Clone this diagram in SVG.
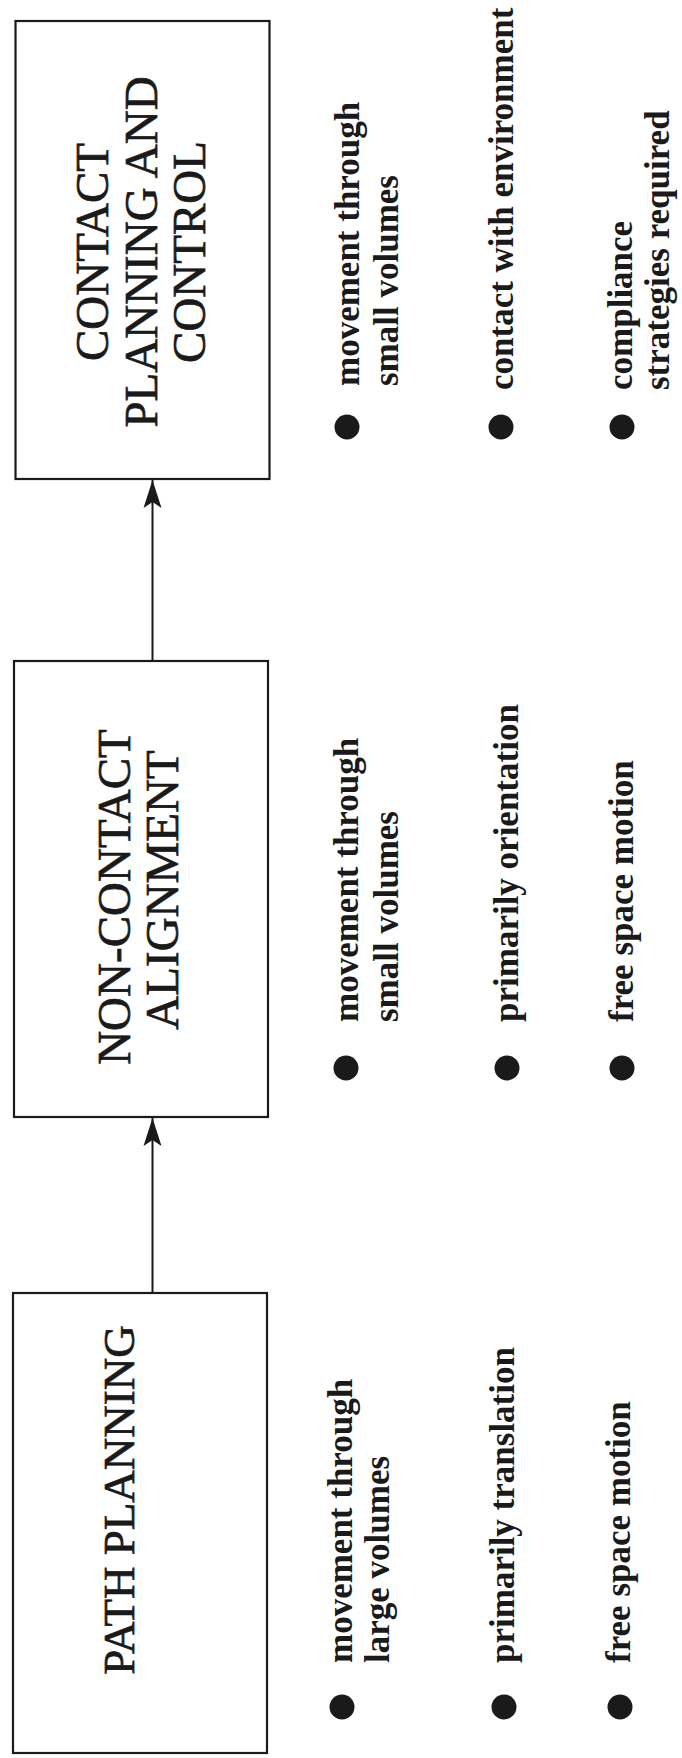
<svg xmlns="http://www.w3.org/2000/svg" width="682" height="1758" viewBox="0 0 682 1758">
<style>
.box{fill:none;stroke:#1a1a1a;stroke-width:2.2}
.title{font-family:"Liberation Serif","Times New Roman",serif;font-size:47px;fill:#1a1a1a;stroke:#1a1a1a;stroke-width:0.7;text-anchor:middle}
.item{font-family:"Liberation Serif","Times New Roman",serif;font-size:35px;font-weight:bold;fill:#1a1a1a}
.dot{fill:#1a1a1a}
.conn{stroke:#1a1a1a;stroke-width:2;fill:none}
</style>
<defs>
<marker id="arr" viewBox="0 -10 30 20" refX="28" refY="0" markerWidth="30" markerHeight="20" markerUnits="userSpaceOnUse" orient="auto">
<path d="M28,0 L0,-9 L6,0 L0,9 Z" fill="#1a1a1a"/>
</marker>
</defs>
<rect width="682" height="1758" fill="#ffffff"/>

<g id="connectors">
<line class="conn" x1="152.5" y1="661" x2="152.5" y2="480" marker-end="url(#arr)"/>
<line class="conn" x1="152.5" y1="1293" x2="152.5" y2="1118" marker-end="url(#arr)"/>
</g>

<g id="node-contact">
<rect class="box" x="15.5" y="21" width="254" height="458"/>
<text class="title" transform="translate(108,252) rotate(-90)">CONTACT</text>
<text class="title" transform="translate(157,252) rotate(-90)">PLANNING AND</text>
<text class="title" transform="translate(205,252) rotate(-90)">CONTROL</text>
</g>

<g id="list-contact">
<circle class="dot" cx="347" cy="427" r="12.5"/>
<text class="item" transform="translate(359,386) rotate(-90)">movement through</text>
<text class="item" transform="translate(398,386) rotate(-90)">small volumes</text>
<circle class="dot" cx="501" cy="427" r="12.5"/>
<text class="item" transform="translate(513,390) rotate(-90)">contact with environment</text>
<circle class="dot" cx="622" cy="427" r="12.5"/>
<text class="item" transform="translate(632,390) rotate(-90)">compliance</text>
<text class="item" transform="translate(669,390) rotate(-90)">strategies required</text>
</g>

<g id="node-noncontact">
<rect class="box" x="14" y="661" width="254" height="456"/>
<text class="title" transform="translate(130,897) rotate(-90)">NON-CONTACT</text>
<text class="title" transform="translate(178,890) rotate(-90)">ALIGNMENT</text>
</g>

<g id="list-noncontact">
<circle class="dot" cx="346" cy="1068" r="12.5"/>
<text class="item" transform="translate(358,1022) rotate(-90)">movement through</text>
<text class="item" transform="translate(398,1022) rotate(-90)">small volumes</text>
<circle class="dot" cx="507" cy="1068" r="12.5"/>
<text class="item" transform="translate(518,1022) rotate(-90)">primarily orientation</text>
<circle class="dot" cx="622" cy="1068" r="12.5"/>
<text class="item" transform="translate(633,1022) rotate(-90)">free space motion</text>
</g>

<g id="node-path">
<rect class="box" x="13" y="1293" width="254" height="460"/>
<text class="title" style="font-size:45px" transform="translate(134,1500) rotate(-90)">PATH PLANNING</text>
</g>

<g id="list-path">
<circle class="dot" cx="342" cy="1707" r="12.5"/>
<text class="item" transform="translate(352,1663) rotate(-90)">movement through</text>
<text class="item" transform="translate(389,1663) rotate(-90)">large volumes</text>
<circle class="dot" cx="504" cy="1707" r="12.5"/>
<text class="item" transform="translate(514,1663) rotate(-90)">primarily translation</text>
<circle class="dot" cx="620" cy="1707" r="12.5"/>
<text class="item" transform="translate(630,1663) rotate(-90)">free space motion</text>
</g>
</svg>
